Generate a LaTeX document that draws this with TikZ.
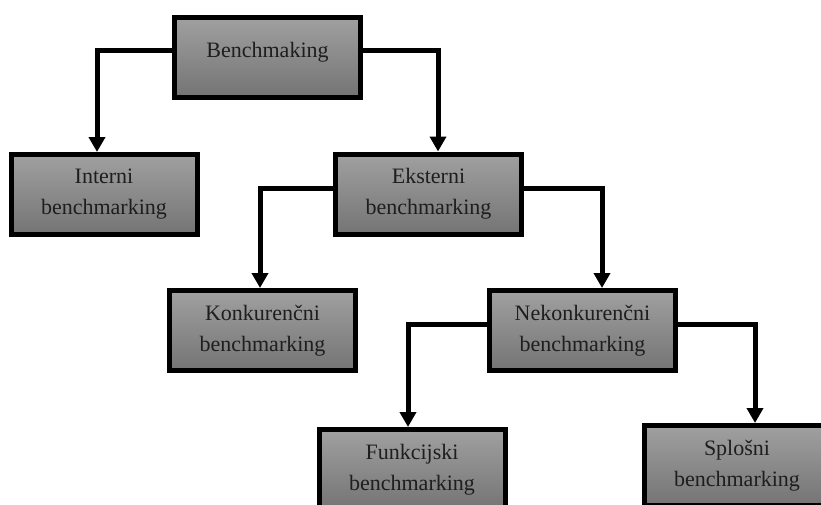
\documentclass[tikz,border=0pt]{standalone}
\usepackage{fontspec}
\setmainfont{Liberation Serif}
\usetikzlibrary{arrows.meta}
\definecolor{boxtop}{HTML}{A0A0A0}
\definecolor{boxbot}{HTML}{747474}
\definecolor{boxtext}{HTML}{1E1E1E}
\begin{document}
\begin{tikzpicture}[
        x=1pt, y=-1pt,
        >={Triangle[width=16pt,length=15pt]},
        level/.style={draw, line width=5pt, top color=boxtop, bottom color=boxbot,
            align=center, text=boxtext, font=\fontsize{22}{31}\selectfont,
            minimum width=186pt, minimum height=80pt, inner sep=0pt},
        conn/.style={->, line width=5pt}
    ]
        \useasboundingbox (0,0) rectangle (821,504);
        \clip (0,0) rectangle (821,504);
        \node[level] (bench) at (267.5,57) {\raisebox{14pt}{Benchmaking}};
        \node[level] (interni) at (104,194.5) {Interni\\benchmarking};
        \node[level] (eksterni) at (428.5,194) {Eksterni\\benchmarking};
        \node[level] (konk) at (262.5,330.5) {Konkurenčni\\benchmarking};
        \node[level] (nekonk) at (582.5,330.5) {Nekonkurenčni\\benchmarking};
        \node[level] (funk) at (412,469.5) {Funkcijski\\benchmarking};
        \node[level] (splosni) at (737,465.5) {Splošni\\benchmarking};
        \draw[conn] ([yshift=7pt]bench.west) -| ([xshift=-7pt]interni.north);
        \draw[conn] ([yshift=7pt]bench.east) -| ([xshift=9.5pt]eksterni.north);
        \draw[conn] ([yshift=6pt]eksterni.west) -| ([xshift=-2.5pt]konk.north);
        \draw[conn] ([yshift=6pt]eksterni.east) -| ([xshift=19.5pt]nekonk.north);
        \draw[conn] ([yshift=6.5pt]nekonk.west) -| ([xshift=-4pt]funk.north);
        \draw[conn] ([yshift=6.5pt]nekonk.east) -| ([xshift=18pt]splosni.north);
    \end{tikzpicture}
\end{document}
